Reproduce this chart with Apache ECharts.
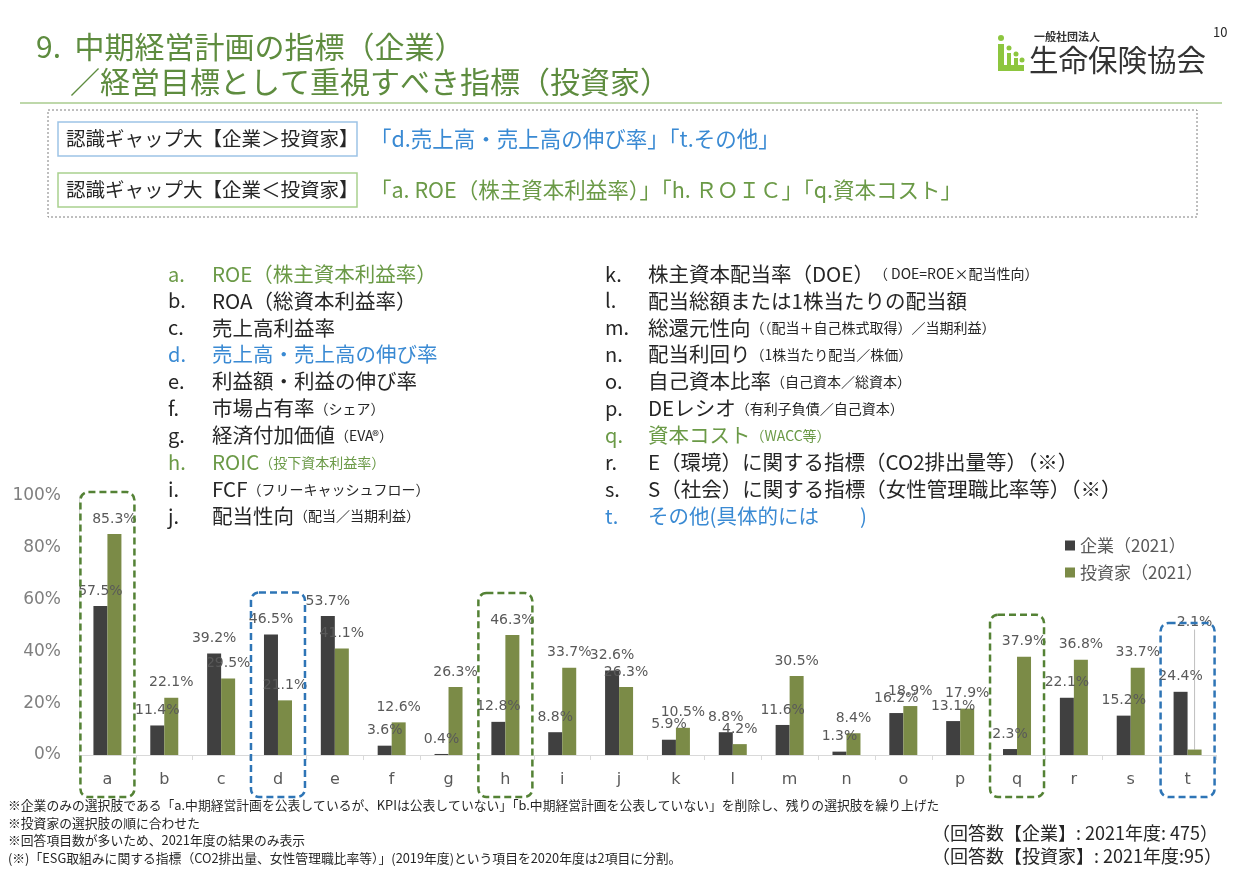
<!DOCTYPE html>
<html>
<head>
<meta charset="utf-8">
<script src="https://cdn.jsdelivr.net/npm/echarts@6/dist/echarts.min.js"></script>
<style>
  html, body { margin: 0; padding: 0; background: #fff; }
  #chart { width: 1245px; height: 884px; }
</style>
</head>
<body>
<div id="chart"></div>
<script>
// chart values
var categories = ['a', 'b', 'c', 'd', 'e', 'f', 'g', 'h', 'i', 'j', 'k', 'l', 'm', 'n', 'o', 'p', 'q', 'r', 's', 't'];
var companyValues = [57.5, 11.4, 39.2, 46.5, 53.7, 3.6, 0.4, 12.8, 8.8, 32.6, 5.9, 8.8, 11.6, 1.3, 16.2, 13.1, 2.3, 22.1, 15.2, 24.4];
var investorValues = [85.3, 22.1, 29.5, 21.1, 41.1, 12.6, 26.3, 46.3, 33.7, 26.3, 10.5, 4.2, 30.5, 8.4, 18.9, 17.9, 37.9, 36.8, 33.7, 2.1];
var seriesNames = ['企業（2021）', '投資家（2021）'];
var yTicks = [0, 20, 40, 60, 80, 100];

// highlighted categories
var greenHighlights = ['a', 'h', 'q'];
var blueHighlights = ['d', 't'];

// legend of the indicators (letter, main text, small note)
var leftItems = [
  ['a.', 'ROE（株主資本利益率）', ''],
  ['b.', 'ROA（総資本利益率）', ''],
  ['c.', '売上高利益率', ''],
  ['d.', '売上高・売上高の伸び率', ''],
  ['e.', '利益額・利益の伸び率', ''],
  ['f.', '市場占有率', '（シェア）'],
  ['g.', '経済付加価値', '（EVA®）'],
  ['h.', 'ROIC', '（投下資本利益率）'],
  ['i.', 'FCF', '（フリーキャッシュフロー）'],
  ['j.', '配当性向', '（配当／当期利益）']
];
var rightItems = [
  ['k.', '株主資本配当率（DOE）', '（ DOE=ROE×配当性向）'],
  ['l.', '配当総額または1株当たりの配当額', ''],
  ['m.', '総還元性向', '（（配当＋自己株式取得）／当期利益）'],
  ['n.', '配当利回り', '（1株当たり配当／株価）'],
  ['o.', '自己資本比率', '（自己資本／総資本）'],
  ['p.', 'DEレシオ', '（有利子負債／自己資本）'],
  ['q.', '資本コスト', '（WACC等）'],
  ['r.', 'E（環境）に関する指標（CO2排出量等）（※）', ''],
  ['s.', 'S（社会）に関する指標（女性管理職比率等）（※）', ''],
  ['t.', 'その他(具体的には　　)', '']
];
var footnotes = [
  '※企業のみの選択肢である「a.中期経営計画を公表しているが、KPIは公表していない」「b.中期経営計画を公表していない」を削除し、残りの選択肢を繰り上げた',
  '※投資家の選択肢の順に合わせた',
  '※回答項目数が多いため、2021年度の結果のみ表示',
  '(※)「ESG取組みに関する指標（CO2排出量、女性管理職比率等）」(2019年度)という項目を2020年度は2項目に分割。'
];
var answerCounts = ['（回答数【企業】: 2021年度: 475）', '（回答数【投資家】: 2021年度:95）'];

var JP = '"Noto Sans CJK JP", "Noto Sans", sans-serif';
var NUM = '"DejaVu Sans", Verdana, sans-serif';
var TITLE_GREEN = '#5E8C3F';
var GREEN_TXT = '#6B9A47';
var BLUE_TXT = '#3A8AD3';
var DARK = '#404040';
var OLIVE = '#7B8B47';
var LOGO = '#8DC63F';

var chart = echarts.init(document.getElementById('chart'));

function itemColor(letter) {
  var c = letter.charAt(0);
  if (greenHighlights.indexOf(c) >= 0) return GREEN_TXT;
  if (blueHighlights.indexOf(c) >= 0) return BLUE_TXT;
  return '#262626';
}

function txt(x, y, text, font, fill) {
  return { type: 'text', x: x, y: y, style: { text: text, font: font, fill: fill, verticalAlign: 'middle', align: 'left' } };
}

function listGraphics(items, xLetter, xText, top) {
  var out = [];
  items.forEach(function (it, i) {
    var y = top + i * 26.9;
    var col = itemColor(it[0]);
    out.push(txt(xLetter, y, it[0], '20px ' + JP, col));
    out.push({
      type: 'text', x: xText, y: y,
      style: {
        text: '{m|' + it[1] + '}' + (it[2] ? '{s|' + it[2] + '}' : ''),
        verticalAlign: 'middle', align: 'left',
        rich: {
          m: { fontFamily: JP, fontSize: 20.5, fill: col },
          s: { fontFamily: JP, fontSize: 14, fill: col }
        }
      }
    });
  });
  return out;
}

var graphics = [
  // title
  txt(36, 47, '9.  中期経営計画の指標（企業）', '30px ' + JP, TITLE_GREEN),
  txt(70, 82, '／経営目標として重視すべき指標（投資家）', '30px ' + JP, TITLE_GREEN),
  { type: 'line', shape: { x1: 20, y1: 103, x2: 1222, y2: 103 }, style: { stroke: '#A9CB8E', lineWidth: 1.5 } },
  // page number and logo
  txt(1213, 32, '10', '13px ' + JP, '#262626'),
  txt(1034, 37, '一般社団法人', 'bold 11px ' + JP, '#333'),
  txt(1029, 60, '生命保険協会', '29.5px ' + JP, '#333'),
  { type: 'rect', shape: { x: 998, y: 44, width: 6, height: 27 }, style: { fill: LOGO } },
  { type: 'rect', shape: { x: 998, y: 65, width: 26, height: 6 }, style: { fill: LOGO } },
  { type: 'rect', shape: { x: 1007, y: 53, width: 4, height: 12 }, style: { fill: LOGO } },
  { type: 'rect', shape: { x: 1014, y: 58, width: 4, height: 7 }, style: { fill: LOGO } },
  { type: 'circle', shape: { cx: 1001, cy: 38, r: 3 }, style: { fill: LOGO } },
  { type: 'circle', shape: { cx: 1009, cy: 48, r: 2.5 }, style: { fill: LOGO } },
  { type: 'circle', shape: { cx: 1016, cy: 54, r: 2.5 }, style: { fill: LOGO } },
  { type: 'circle', shape: { cx: 1022, cy: 60, r: 2.5 }, style: { fill: LOGO } },
  // gap summary box
  { type: 'rect', shape: { x: 48, y: 110, width: 1149, height: 107 }, style: { fill: 'none', stroke: '#7F7F7F', lineWidth: 1, lineDash: [2, 2] } },
  { type: 'rect', shape: { x: 58, y: 122, width: 299, height: 34 }, style: { fill: '#fff', stroke: '#9DC3E6', lineWidth: 1.5 } },
  { type: 'rect', shape: { x: 58, y: 173, width: 299, height: 34 }, style: { fill: '#fff', stroke: '#A9D18E', lineWidth: 1.5 } },
  txt(66, 139, '認識ギャップ大【企業＞投資家】', '19.5px ' + JP, '#262626'),
  txt(66, 190, '認識ギャップ大【企業＜投資家】', '19.5px ' + JP, '#262626'),
  txt(370, 139, '「d.売上高・売上高の伸び率」「t.その他」', '21.5px ' + JP, BLUE_TXT),
  txt(370, 190, '「a. ROE（株主資本利益率）」「h. ＲＯＩＣ」「q.資本コスト」', '21.5px ' + JP, GREEN_TXT)
];
graphics = graphics.concat(listGraphics(leftItems, 168, 212, 274));
graphics = graphics.concat(listGraphics(rightItems, 605, 648, 274));
footnotes.forEach(function (t, i) {
  graphics.push(txt(8, 805 + i * 17.8, t, '12.8px ' + JP, '#262626'));
});
answerCounts.forEach(function (t, i) {
  graphics.push(txt(932, 833 + i * 23, t, '18px ' + JP, '#262626'));
});

var labelStyle = {
  show: true, position: 'top', distance: 8,
  formatter: function (p) { return p.value.toFixed(1) + '%'; },
  fontFamily: NUM, fontSize: 14, color: '#595959'
};

// investor data items: only the last (tiny) one gets a leader line to its raised label
var lastIndex = categories.length - 1;
var investorData = investorValues.map(function (v, i) {
  return i === lastIndex
    ? { value: v, labelLine: { show: true, lineStyle: { color: '#BFBFBF', width: 1 } } }
    : v;
});

chart.setOption({
  animation: false,
  textStyle: { fontFamily: JP },
  grid: { left: 79, right: 29, top: 496, bottom: 129 },
  legend: {
    orient: 'vertical', left: 1060, top: 532, itemWidth: 10, itemHeight: 10, itemGap: 10,
    icon: 'rect', data: seriesNames,
    textStyle: { fontFamily: JP, fontSize: 17, color: '#595959' }
  },
  xAxis: {
    type: 'category', data: categories,
    axisLine: { lineStyle: { color: '#D9D9D9' } },
    axisTick: { show: true, length: 5, lineStyle: { color: '#D9D9D9' } },
    axisLabel: { fontFamily: NUM, fontSize: 16, color: '#595959', margin: 17 }
  },
  yAxis: {
    type: 'value', min: 0, max: 100, interval: 20,
    axisLine: { show: true, lineStyle: { color: '#D9D9D9' } },
    splitLine: { show: false },
    axisLabel: {
      fontFamily: NUM, fontSize: 17, color: '#7F7F7F', margin: 18,
      formatter: function (v) { return yTicks.indexOf(v) >= 0 ? v + '%' : ''; }
    }
  },
  series: [
    { name: seriesNames[0], type: 'bar', data: companyValues, barWidth: 14, barGap: '0%', itemStyle: { color: DARK }, label: labelStyle },
    {
      name: seriesNames[1], type: 'bar', data: investorData, barWidth: 14, barGap: '0%', itemStyle: { color: OLIVE }, label: labelStyle,
      labelLine: { show: false },
      labelLayout: function (p) {
        return p.dataIndex === lastIndex ? { dy: -112 } : {};
      }
    }
  ],
  graphic: graphics
});

// dashed highlight frames around selected categories, placed via the axis scales
var frames = [];
categories.forEach(function (c, i) {
  var isGreen = greenHighlights.indexOf(c) >= 0;
  var isBlue = blueHighlights.indexOf(c) >= 0;
  if (!isGreen && !isBlue) return;
  var top = chart.convertToPixel({ gridIndex: 0 }, [c, Math.max(companyValues[i], investorValues[i])]);
  var base = chart.convertToPixel({ gridIndex: 0 }, [c, 0]);
  var y0 = Math.min(top[1] - 42, base[1] - 132);
  frames.push({
    type: 'rect', z: 10,
    shape: { x: base[0] - 27, y: y0, width: 54, height: base[1] + 42 - y0, r: 8 },
    style: { fill: 'none', stroke: isGreen ? '#548235' : '#2E75B6', lineWidth: 2.5, lineDash: [7, 4] }
  });
});
chart.setOption({ graphic: graphics.concat(frames) });
</script>
</body>
</html>
